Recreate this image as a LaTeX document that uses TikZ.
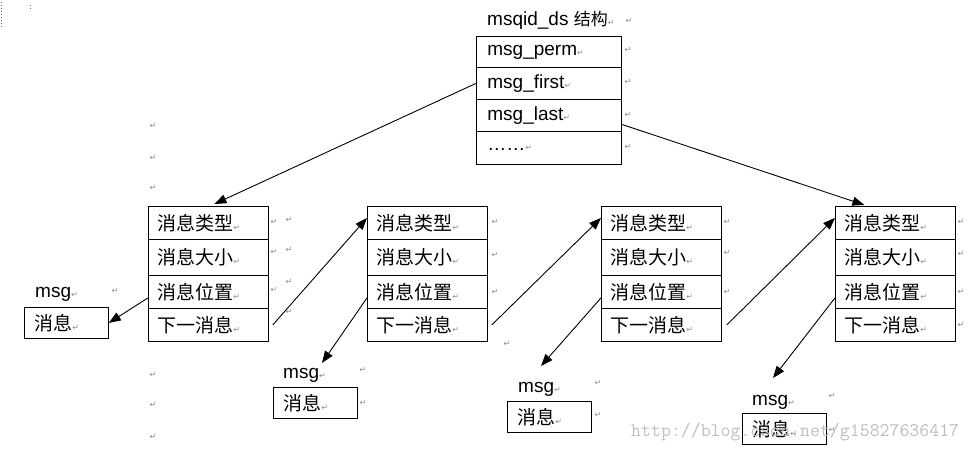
\documentclass[tikz,border=0pt]{standalone}
\usepackage{fontspec}
\setmainfont{Liberation Sans}
\newfontfamily\cjk{Noto Sans CJK SC}
\newfontfamily\dvs{DejaVu Sans}
\usetikzlibrary{arrows.meta,calc}
\newcommand\pmk{{\color{black!45}\dvs\fontsize{8}{8}\selectfont ↵}}
\begin{document}
\begin{tikzpicture}[x=1pt,y=-1pt,
  box/.style={draw, line width=0.8pt, anchor=north west, inner ysep=0pt, align=left},
  cellA/.style={box, text width=102pt, inner xsep=9pt, font=\cjk\fontsize{19}{20}\selectfont},
  cellQ/.style={box, text width=123pt, inner xsep=11pt, font=\fontsize{19}{20}\selectfont},
  msgbox/.style={box, text width=64pt, inner xsep=10pt, minimum height=31pt, font=\cjk\fontsize{19}{20}\selectfont},
  lbl/.style={anchor=base west, inner sep=0pt, font=\fontsize{19}{20}\selectfont},
  pm/.style={inner sep=0pt, text=black!45, font=\dvs\fontsize{8}{8}\selectfont},
  conn/.style={line width=0.9pt, -{Triangle[length=12pt,width=9pt]}}]
\useasboundingbox (0,0) rectangle (970,451);
\fill[white] (0,0) rectangle (970,451);

% corner marks
\draw[black!60, dotted, line width=1pt] (1,2) -- (1,28);
\draw[black!60, dotted, line width=1pt] (30,5) -- (30,9);

% msqid_ds structure
\node[lbl] (title) at (487,25) {msqid\_ds {\cjk\fontsize{17}{17}\selectfont 结构}\pmk};
\node[cellQ, minimum height=31pt] (qp) at (476,36) {msg\_perm\pmk};
\node[cellQ, minimum height=32pt] (qf) at (476,67) {msg\_first\pmk};
\node[cellQ, minimum height=32pt] (ql) at (476,99) {msg\_last\pmk};
\node[cellQ, minimum height=33pt] (qd) at (476,131) {……\pmk};

% message blocks
\foreach \k/\x in {1/148, 2/367, 3/601, 4/835}{
  \node[cellA, minimum height=33pt] (b\k a) at (\x,206) {消息类型\pmk};
  \node[cellA, minimum height=36pt] (b\k b) at (\x,239) {消息大小\pmk};
  \node[cellA, minimum height=33pt] (b\k c) at (\x,275) {消息位置\pmk};
  \node[cellA, minimum height=33pt] (b\k d) at (\x,308) {下一消息\pmk};
}

% msg labels and boxes
\node[lbl] (m1l) at (35,297) {msg\pmk};
\node[msgbox] (m1) at (24,307) {消息\pmk};
\node[lbl] (m2l) at (283,378) {msg\pmk};
\node[msgbox] (m2) at (273,387) {消息\pmk};
\node[lbl] (m3l) at (518,392) {msg\pmk};
\node[msgbox] (m3) at (507,401) {消息\pmk};
\node[lbl] (m4l) at (752,405) {msg\pmk};
\node[msgbox] (m4) at (742,413) {消息\pmk};

% stray paragraph marks
\foreach \p [count=\i] in {
  (629,21),
  (628,50),(628,82),(628,115),(628,147),
  (153,126),(153,158),(153,188),(153,375),(153,405),(153,437),
  (274,222),(289,220),(274,252),(289,250),(274,290),(289,282),(289,312),
  (115,291),
  (495,222),(495,255),(495,292),(507,344),
  (363,370),(363,403),
  (727,222),(727,253),(727,292),
  (598,383),(598,415),
  (961,222),(961,254),(961,292),(961,325),
  (832,396),(832,430)}
  \node[pm] (pm\i) at \p {↵};

% connectors
\draw[conn] (qf.west) -- ($(b1a.north)+(6,-2)$);
\draw[conn] ($(ql.east)+(0,9)$) -- ($(b4a.north)+(-31,-1)$);
\draw[conn] ($(b1c.west)+(0,6)$) -- (m1.east);
\draw[conn] ($(b1d.east)+(4,0)$) -- ($(b2a.west)+(0,-5)$);
\draw[conn] ($(b2c.west)+(0,6)$) -- ($(m2l.base west)+(39,-15)$);
\draw[conn] ($(b2d.east)+(4,0)$) -- ($(b3a.west)+(0,-5)$);
\draw[conn] ($(b3c.west)+(0,6)$) -- ($(m3l.base west)+(23,-26)$);
\draw[conn] ($(b3d.east)+(5,0)$) -- ($(b4a.west)+(0,-5)$);
\draw[conn] ($(b4c.west)+(0,6)$) -- ($(m4l.base west)+(21,-27)$);

% watermark
\node[anchor=base west, inner sep=0pt, text=black!25, font=\ttfamily\fontsize{19.3}{20}\selectfont] (wm) at (631,436) {http://blog.csdn.net/g15827636417};
\end{tikzpicture}
\end{document}
